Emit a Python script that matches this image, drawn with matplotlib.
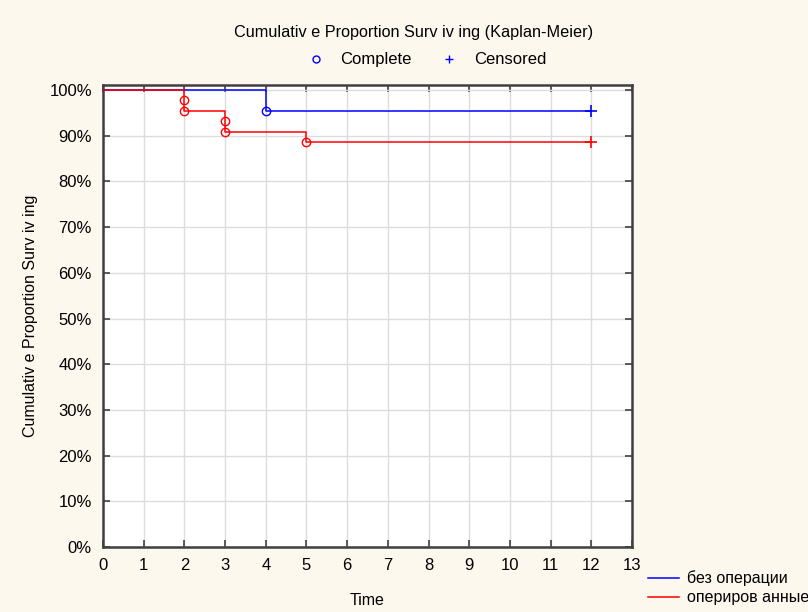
import matplotlib.pyplot as plt
from matplotlib.lines import Line2D

plt.rcParams['font.family'] = ['Liberation Sans', 'DejaVu Sans']

# step curves (time, cumulative proportion surviving %)
t_no_op = [0, 4, 12]
s_no_op = [100, 95.45, 95.45]
t_op = [0, 2, 3, 5, 12]
s_op = [100, 95.45, 90.91, 88.64, 88.64]

# complete (event) points
ev_t_no_op = [4]
ev_s_no_op = [95.45]
ev_t_op = [2, 2, 3, 3, 5]
ev_s_op = [97.73, 95.45, 93.18, 90.91, 88.64]

# censored points
cen_t_no_op = [12]
cen_s_no_op = [95.45]
cen_t_op = [12]
cen_s_op = [88.64]

labels = ['без операции', 'опериров анные']
x_ticks = list(range(0, 14))
y_ticks = list(range(0, 101, 10))

bg = '#fdf8ee'
fig = plt.figure(figsize=(8.08, 6.12), dpi=100, facecolor=bg)
ax = fig.add_axes([0.1275, 0.1062, 0.6547, 0.7549])
ax.set_facecolor('white')

blue = '#0000ff'
red = '#ff0000'
ax.step(t_no_op, s_no_op, where='post', color=blue, lw=1.1, zorder=3)
ax.step(t_op, s_op, where='post', color=red, lw=1.1, zorder=3)
ax.plot(ev_t_no_op, ev_s_no_op, 'o', mfc='none', mec=blue, ms=6, mew=1, zorder=4)
ax.plot(ev_t_op, ev_s_op, 'o', mfc='none', mec=red, ms=6, mew=1, zorder=4)
ax.plot(cen_t_no_op, cen_s_no_op, '+', color=blue, ms=8, mew=1.2, zorder=4)
ax.plot(cen_t_op, cen_s_op, '+', color=red, ms=8, mew=1.2, zorder=4)

ax.set_xlim(0, 13)
ax.set_ylim(0, 101.1)
ax.set_xticks(x_ticks)
ax.set_yticks(y_ticks)
ax.set_yticklabels([f'{v}%' for v in y_ticks])
ax.grid(True, color='#dcdcdc', lw=1)
ax.set_axisbelow(True)
ax.tick_params(direction='in', top=True, right=True, length=5, width=1.2,
               color='#404040', labelsize=12, pad=8)
for sp in ax.spines.values():
    sp.set_color('#404040')
    sp.set_linewidth(1.8)

ax.set_xlabel('Time', fontsize=11.5, labelpad=14)
ax.set_ylabel('Cumulativ e Proportion Surv iv ing', fontsize=11.5, labelpad=8)

fig.text(0.512, 0.947, 'Cumulativ e Proportion Surv iv ing (Kaplan-Meier)',
         ha='center', va='center', fontsize=11.7)

mk = [Line2D([], [], ls='none', marker='o', mfc='none', mec=blue, ms=5),
      Line2D([], [], ls='none', marker='+', color=blue, ms=6)]
fig.legend(mk, ['Complete', 'Censored'], loc='center', bbox_to_anchor=(0.527, 0.902),
           ncol=2, frameon=False, fontsize=12, handlelength=1.2, handletextpad=0.9,
           columnspacing=1.6)

series = [Line2D([], [], color=blue, lw=1.1), Line2D([], [], color=red, lw=1.1)]
fig.legend(series, labels, loc='upper left', bbox_to_anchor=(0.802, 0.068),
           frameon=False, fontsize=11.5, handlelength=1.95, handletextpad=0.5,
           labelspacing=0.25, borderaxespad=0, borderpad=0)

fig.savefig('out.png', dpi=100, facecolor=bg)
